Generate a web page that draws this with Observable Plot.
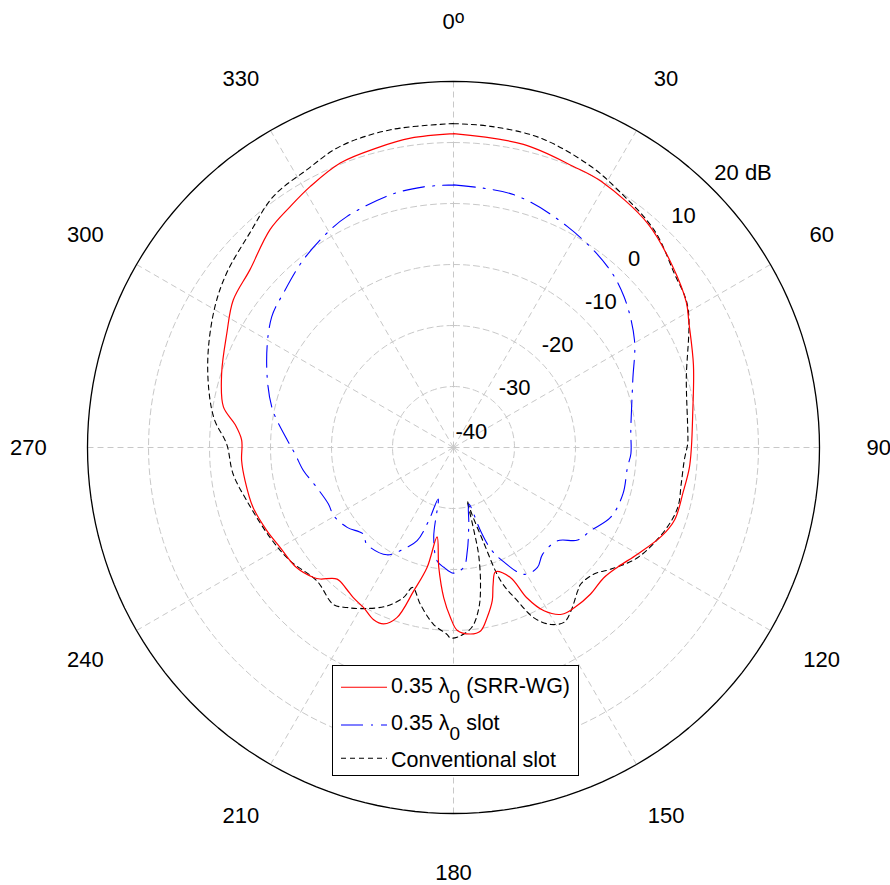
<!DOCTYPE html>
<html>
<head>
<meta charset="utf-8">
<script src="https://cdn.jsdelivr.net/npm/d3@7"></script>
<script src="https://cdn.jsdelivr.net/npm/@observablehq/plot@0.6"></script>
<style>
  html, body { margin: 0; padding: 0; background: #fff; }
  #wrap { position: relative; width: 890px; height: 885px; font-family: "Liberation Sans", Arial, sans-serif; }
  #legend { position: absolute; left: 332px; top: 665px; width: 245px; height: 109px; border: 1px solid #000; background: #fff; }
</style>
</head>
<body>
<div id="wrap"></div>
<script>
// ---- axis settings ----
const dbMin = -40, dbMax = 20;
const angleTicks = [0, 30, 60, 90, 120, 150, 180, 210, 240, 270, 300, 330];
const angleLabels = ["0", "30", "60", "90", "120", "150", "180", "210", "240", "270", "300", "330"];
const ringLevels = [-30, -20, -10, 0, 10];
const ringLabelLevels = [-40, -30, -20, -10, 0, 10, 20];
const ringLabels = ["-40", "-30", "-20", "-10", "0", "10", "20 dB"];
const seriesNames = ["0.35 \u03bb0 (SRR-WG)", "0.35 \u03bb0 slot", "Conventional slot"];

// ---- series: angle (deg, clockwise from top) and level (dB) ----
const srrAngle = [0, 13, 23, 29, 41, 50, 58, 62, 71, 82, 90, 95, 101, 108, 113, 120, 126, 131, 137, 143, 147, 151, 154, 156.3, 161.3, 163.8, 165.8, 168.8, 171.6, 174.8, 178.8, 181, 183.7, 187, 190.4, 192.4, 195.5, 198.4, 201.6, 205, 209.3, 213.7, 217, 221.5, 225.4, 227.1, 232.6, 240, 246, 253.4, 261, 266.5, 272, 276, 280, 287.7, 296.7, 303.8, 311.1, 319.9, 325.8, 331.2, 338.3, 345.7, 352.1, 360];
const srrDb = [11.45, 11.0, 10.1, 9.9, 8.6, 6.7, 5.0, 3.7, 1.6, -0.4, -1.0, -1.2, -1.65, -1.85, -2.9, -5.1, -6.7, -7.4, -7.1, -7.1, -7.4, -9.4, -12.6, -16.7, -18.5, -16.7, -14.1, -11.6, -9.6, -9.3, -10.0, -12.1, -15.3, -20.2, -25.1, -19.9, -15.6, -10.6, -8.9, -8.9, -9.9, -10.4, -10.9, -11.2, -9.3, -8.7, -7.6, -7.2, -6.5, -5.7, -5.4, -5.2, -5.25, -4.0, -1.7, -0.1, 1.6, 3.45, 4.3, 6.7, 7.7, 8.8, 10.2, 10.7, 11.2, 11.45];

const slotAngle = [0, 13.5, 27.3, 40.4, 48.6, 59.3, 69.4, 84.5, 92, 96.5, 105.3, 113.9, 121.2, 126.7, 131.9, 140.2, 145, 150.9, 157.1, 159.9, 162, 164.8, 168.7, 172.4, 175.1, 180, 184.6, 188.2, 192.4, 196.6, 198.7, 201.3, 206.1, 211.8, 221.9, 226.1, 233.1, 240.4, 245.7, 254.6, 261.3, 267.7, 273, 282.5, 295, 305.7, 312.2, 321.3, 330.5, 335.2, 346, 353.5, 360];
const slotDb = [3.05, 2.6, 0.75, -1.05, -2.7, -5.5, -8.6, -10.8, -10.9, -11.3, -11.2, -11.8, -13.7, -14.6, -17.1, -17.2, -16.0, -16.2, -20.1, -22.3, -25.6, -30.4, -27.2, -22.9, -20.3, -19.4, -20.3, -21.2, -24.9, -31.2, -27.3, -23.6, -21.5, -19.3, -18.7, -19.5, -18.2, -17.4, -17.5, -16.5, -15.1, -14.0, -12.6, -9.5, -6.2, -3.3, -2.35, -0.6, 1.0, 1.7, 2.7, 3.0, 3.05];

const convAngle = [0, 6.6, 15.7, 26, 32.5, 42.7, 51.7, 59, 74, 86, 89, 93, 99, 105, 111.5, 120.8, 127.7, 132, 137, 139.1, 144.3, 147.6, 151.2, 154.7, 157.4, 160.5, 162.5, 164.9, 165.5, 166.2, 166.8, 168.8, 171, 174.3, 178.9, 181, 182, 186.4, 191.9, 196.3, 198.4, 202.8, 209.2, 213.6, 217.4, 225.7, 235.3, 243.9, 255.6, 263.2, 270.9, 276.5, 282.4, 291, 300.5, 307.5, 316.5, 324.3, 332.2, 339.4, 348.8, 360];
const convDb = [13.1, 13.0, 12.7, 11.3, 10.1, 8.5, 6.1, 4.8, -0.3, -1.5, -1.6, -2.1, -2.2, -1.95, -2.8, -4.8, -7.4, -9.0, -9.4, -8.9, -7.0, -6.1, -6.9, -9.1, -12.8, -16.8, -24.0, -29.3, -31.0, -26.0, -22.0, -17.2, -13.4, -10.3, -8.9, -8.8, -9.35, -10.8, -13.7, -16.1, -14.1, -11.8, -9.75, -8.5, -7.6, -8.7, -7.4, -6.5, -5.0, -3.6, -2.8, -0.6, 1.0, 3.1, 5.4, 6.9, 8.5, 10.65, 11.5, 12.75, 13.1, 13.1];

// ---- polar -> plane helpers (radius in dB above dbMin) ----
const R = dbMax - dbMin;
const rad = a => a * Math.PI / 180;
const px = (a, db) => Math.max(0, db - dbMin) * Math.sin(rad(a));
const py = (a, db) => Math.max(0, db - dbMin) * Math.cos(rad(a));
const toPts = (angles, dbs) => angles.map((a, i) => ({x: px(a, dbs[i]), y: py(a, dbs[i])}));

const circleSteps = d3.range(0, 361, 2);
const ringPts = ringLevels.flatMap(level => circleSteps.map(a => ({level, x: px(a, level), y: py(a, level)})));
const outerPts = circleSteps.map(a => ({x: px(a, dbMax), y: py(a, dbMax)}));

const labelR = 69.7; // angle labels sit outside the outer ring
const angleLabelData = angleTicks.map((a, i) => ({a, label: angleLabels[i]}));
const ringLabelData = ringLabelLevels.map((l, i) => ({l, label: ringLabels[i]}));

const blueDash = "22,8,2,8";

const chart = Plot.plot({
  width: 890,
  height: 885,
  marginLeft: 87,
  marginRight: 71,
  marginTop: 81,
  marginBottom: 72,
  x: {domain: [-R, R], axis: null},
  y: {domain: [-R, R], axis: null},
  style: {fontFamily: "'Liberation Sans', Arial, sans-serif", background: "#fff", overflow: "visible"},
  marks: [
    Plot.line(ringPts, {x: "x", y: "y", z: "level", stroke: "#c8c8c8", strokeWidth: 1, strokeDasharray: "6,4"}),
    Plot.link(angleTicks, {x1: () => 0, y1: () => 0, x2: a => px(a, dbMax), y2: a => py(a, dbMax), stroke: "#c8c8c8", strokeWidth: 1, strokeDasharray: "6,4"}),
    Plot.line(outerPts, {x: "x", y: "y", stroke: "#000", strokeWidth: 1.3}),
    Plot.line(toPts(convAngle, convDb), {x: "x", y: "y", curve: "catmull-rom", stroke: "#000", strokeWidth: 1.1, strokeDasharray: "5,4"}),
    Plot.line(toPts(slotAngle, slotDb), {x: "x", y: "y", curve: "catmull-rom", stroke: "#0000ff", strokeWidth: 1.1, strokeDasharray: blueDash}),
    Plot.line(toPts(srrAngle, srrDb), {x: "x", y: "y", curve: "catmull-rom", stroke: "#ff0000", strokeWidth: 1.2}),
    Plot.text(ringLabelData, {x: d => px(45, d.l), y: d => py(45, d.l), text: "label", textAnchor: "start", lineAnchor: "middle", dx: 2, dy: -16, fontSize: 22, fill: "#000"}),
    Plot.text(angleLabelData, {x: d => labelR * Math.sin(rad(d.a)), y: d => labelR * Math.cos(rad(d.a)), text: "label", textAnchor: "middle", lineAnchor: "middle", fontSize: 22, fill: "#000"})
  ]
});

const wrap = document.getElementById("wrap");
wrap.appendChild(chart);

// superscript "o" on the top 0 label (the top-most text reading "0")
const zeros = Array.from(chart.querySelectorAll("text")).filter(t => t.textContent.trim() === "0");
if (zeros.length) {
  let top = zeros[0], topY = top.getBoundingClientRect().top;
  zeros.forEach(t => { const yy = t.getBoundingClientRect().top; if (yy < topY) { top = t; topY = yy; } });
  const sup = document.createElementNS("http://www.w3.org/2000/svg", "tspan");
  sup.setAttribute("dy", "-0.38em");
  sup.setAttribute("font-size", "0.8em");
  sup.textContent = "o";
  top.appendChild(sup);
}

// legend
const legend = document.createElement("div");
legend.id = "legend";
const rows = [
  {y: 21.3, base: 27, color: "#ff0000", dash: null},
  {y: 59, base: 64, color: "#0000ff", dash: blueDash},
  {y: 92.3, base: 100.7, color: "#000", dash: "5,4"}
];
const lsvg = d3.select(legend).append("svg").attr("width", 245).attr("height", 109)
  .style("font-family", "'Liberation Sans', Arial, sans-serif").style("font-size", "21.5px");
rows.forEach((r, i) => {
  lsvg.append("line").attr("x1", 8).attr("x2", 54).attr("y1", r.y).attr("y2", r.y)
    .attr("stroke", r.color).attr("stroke-width", 1.1).attr("stroke-dasharray", r.dash);
  const t = lsvg.append("text").attr("x", 58).attr("y", r.base).attr("fill", "#000");
  const name = seriesNames[i];
  const k = name.indexOf("\u03bb0");
  if (k >= 0) {
    t.append("tspan").text(name.slice(0, k + 1));
    t.append("tspan").attr("dy", 10).attr("font-size", "19px").text("0");
    t.append("tspan").attr("dy", -10).text(name.slice(k + 2).replace(/^ /, "\u00a0"));
  } else {
    t.text(name);
  }
});
wrap.appendChild(legend);
</script>
</body>
</html>
